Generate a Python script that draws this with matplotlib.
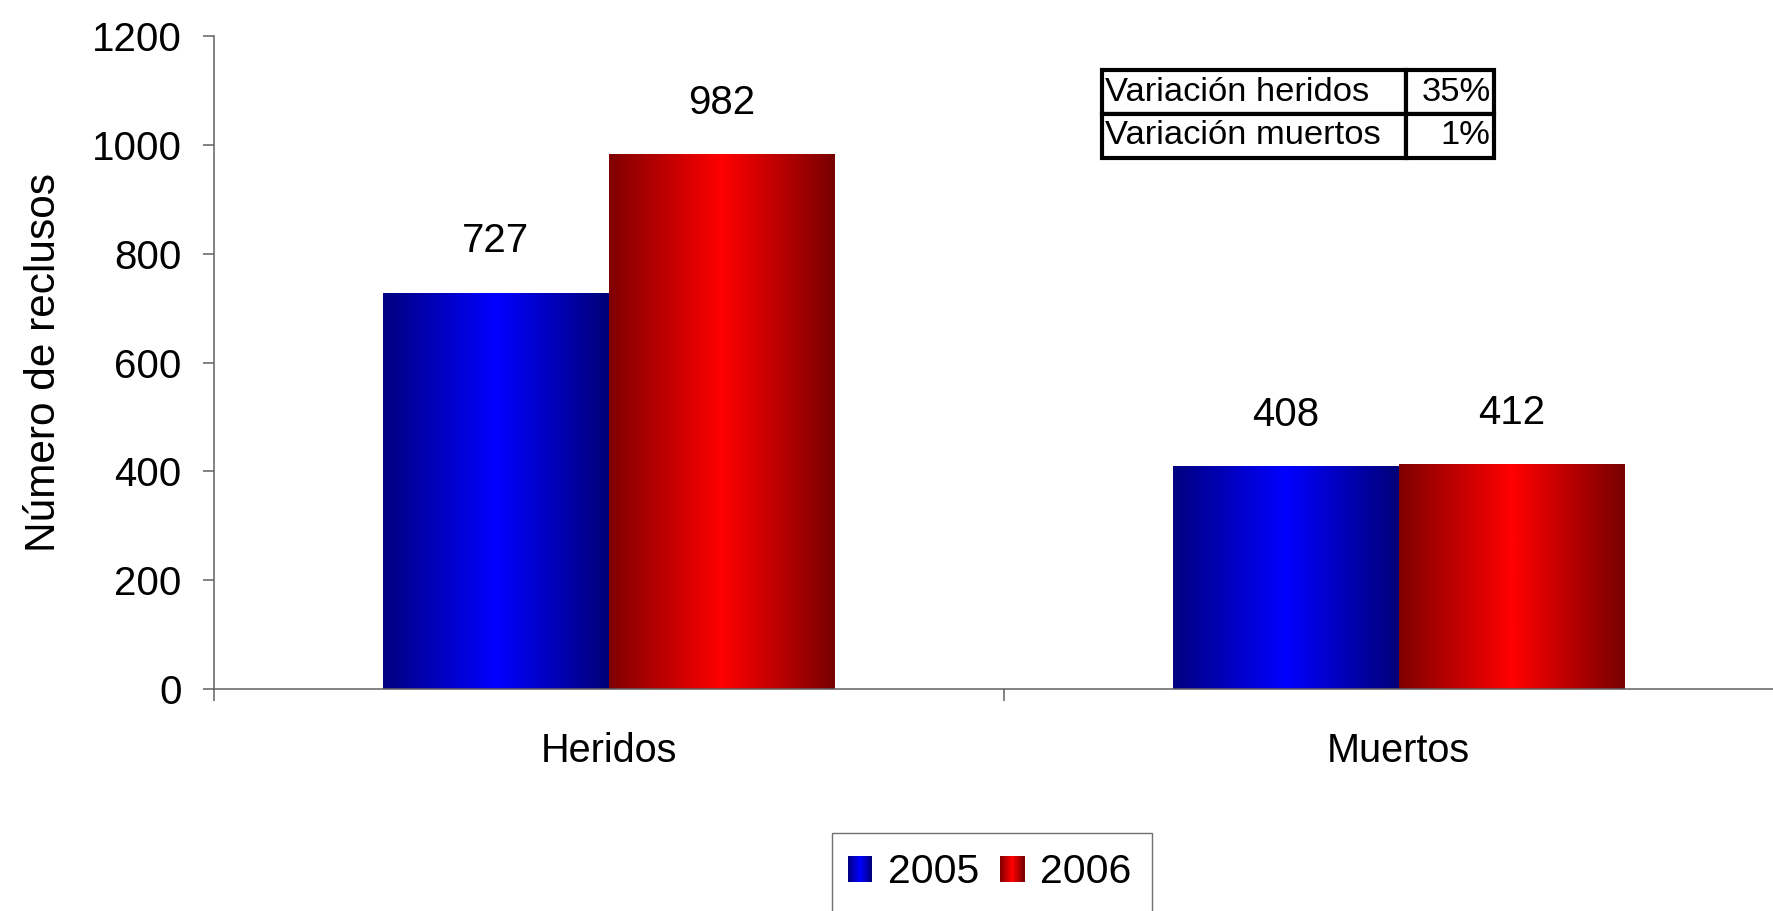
import numpy as np
import matplotlib
matplotlib.use("Agg")
import matplotlib.pyplot as plt
from matplotlib.colors import LinearSegmentedColormap
from matplotlib.legend_handler import HandlerBase
from matplotlib.patches import Rectangle

# datos
categorias = ["Heridos", "Muertos"]
anios = ["2005", "2006"]
valores_2005 = [727, 408]
valores_2006 = [982, 412]
filas_tabla = ["Variación heridos", "Variación muertos"]
variacion = ["35%", "1%"]
yticks = [0, 200, 400, 600, 800, 1000, 1200]

plt.rcParams['font.family'] = ['Liberation Sans', 'DejaVu Sans']

W, H = 1773, 911
fig = plt.figure(figsize=(W / 100, H / 100), dpi=100)
ax = fig.add_axes([213.7 / W, 1 - 689 / H, 1580 / W, 653 / H])

grad_azul = LinearSegmentedColormap.from_list("azul", ["#000080", "#0000ff", "#000078"])
grad_rojo = LinearSegmentedColormap.from_list("rojo", ["#800000", "#ff0000", "#780000"])

# barras (el relleno degradado se pinta encima con imshow)
x = np.arange(len(categorias)) + 0.5
ancho = 1 / 3.5
b1 = ax.bar(x - ancho / 2, valores_2005, ancho, color='none')
b2 = ax.bar(x + ancho / 2, valores_2006, ancho, color='none')
fondo = np.linspace(0, 1, 256).reshape(1, -1)
for barras, cmap in ((b1, grad_azul), (b2, grad_rojo)):
    for r in barras:
        x0, y0 = r.get_x(), r.get_y()
        ax.imshow(fondo, cmap=cmap, aspect='auto', zorder=2,
                  extent=(x0, x0 + r.get_width(), y0, y0 + r.get_height()))

for barras, vals in ((b1, valores_2005), (b2, valores_2006)):
    for r, v in zip(barras, vals):
        ax.annotate(str(v), (r.get_x() + r.get_width() / 2, r.get_height()),
                    xytext=(0, 29.5), textcoords='offset points',
                    ha='center', va='baseline', fontsize=29)

ax.set_xlim(0, 2)
ax.set_ylim(0, 1200)

# ejes
ax.set_xticks([0, 1, 2])
ax.set_xticklabels([])
ax.set_xticks(x, minor=True)
ax.set_xticklabels(categorias, minor=True, fontsize=28.5)
ax.tick_params(axis='x', which='major', direction='out', length=8.5, width=1.1, color='#606060')
ax.tick_params(axis='x', which='minor', length=0, pad=31)
ax.set_yticks(yticks)
ax.tick_params(axis='y', length=8, width=1.1, color='#606060', labelsize=29, pad=15)
for s in ['top', 'right']:
    ax.spines[s].set_visible(False)
for s in ['left', 'bottom']:
    ax.spines[s].set_color('#606060')
    ax.spines[s].set_linewidth(1.1)
ax.set_ylabel("Número de reclusos", fontsize=30.5, labelpad=20)

# tabla de variaciones
tabla = ax.table(cellText=[[f, v] for f, v in zip(filas_tabla, variacion)],
                 colWidths=[0.775, 0.225], bbox=[0.562, 0.8137, 0.2483, 0.1336])
tabla.auto_set_font_size(False)
tabla.set_fontsize(24.8)
for (fila, col), celda in tabla.get_celld().items():
    celda.set_linewidth(3.0)
    celda.PAD = 0.012 if col == 0 else 0.04
    celda.get_text().set_ha('left' if col == 0 else 'right')


# leyenda con cuadrados degradados
class Degradado(HandlerBase):
    def __init__(self, cmap):
        super().__init__()
        self.cmap = cmap

    def create_artists(self, legend, orig_handle, xdescent, ydescent, width, height, fontsize, trans):
        n = 16
        arts = []
        for i in range(n):
            arts.append(Rectangle((-xdescent + width * i / n, -ydescent), width / n * 1.05, height,
                                  facecolor=self.cmap((i + 0.5) / n), edgecolor='none',
                                  antialiased=False, transform=trans))
        return arts


h1 = Rectangle((0, 0), 1, 1)
h2 = Rectangle((0, 0), 1, 1)
fig.legend([h1, h2], anios, handler_map={h1: Degradado(grad_azul), h2: Degradado(grad_rojo)},
           loc='upper left', bbox_to_anchor=(848 / W, 1 - 853 / H), ncol=2, frameon=False,
           fontsize=29.5, handlelength=0.59, handleheight=0.6, handletextpad=0.39,
           columnspacing=0.51, borderpad=0, borderaxespad=0)
fig.add_artist(Rectangle((832.3 / W, -0.05), 319.7 / W, 0.05 + 77.7 / H, transform=fig.transFigure,
                         fill=False, edgecolor='#707070', linewidth=1.0))

fig.savefig('out.png', dpi=100)
